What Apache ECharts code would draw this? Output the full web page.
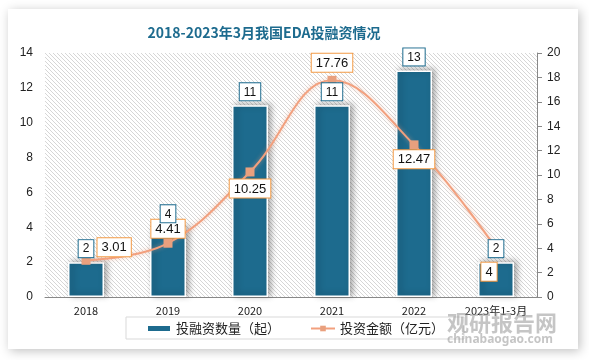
<!DOCTYPE html>
<html><head><meta charset="utf-8">
<script src="https://cdn.jsdelivr.net/npm/echarts@6/dist/echarts.min.js"></script>
<style>html,body{margin:0;padding:0;background:#fff;}#c{width:589px;height:360px;}</style>
</head><body><div id="c"></div>
<script>
var categories = ['2018', '2019', '2020', '2021', '2022', '2023年1-3月'];
var dealCount = [2, 4, 11, 11, 13, 2];
var amount = [3.01, 4.41, 10.25, 17.76, 12.47, 4];
var leftTicks = [0, 14, 2];
var rightTicks = [0, 20, 2];

var tile = document.createElement('canvas');
tile.width = 4; tile.height = 4;
var tc = tile.getContext('2d');
tc.fillStyle = '#ffffff'; tc.fillRect(0,0,4,4);
tc.fillStyle = '#d6d6d6';
for (var i = 0; i < 4; i++) { tc.fillRect(i, i, 1, 1); }

var BLUE = '#1d6b8e';
var ORANGE = '#f39a45';
var linePos = [
  {position:'right', offset:[2,-13], distance:5},
  {position:'top', distance:1},
  {position:'bottom', distance:3},
  {position:'top', distance:4},
  {position:'bottom', distance:1},
  {position:'bottom', offset:[-7,0], distance:10}
];
var lineData = amount.map(function(v,i){ return {value:v, label:linePos[i]}; });

var chart = echarts.init(document.getElementById('c'), null, {renderer:'canvas'});
chart.setOption({
  backgroundColor: '#fff',
  animation: false,
  graphic: [
    {type:'rect', z:-10, shape:{x:8,y:9,width:570,height:340}, style:{fill:'#fff', shadowBlur:10, shadowColor:'rgba(0,0,0,0.25)', shadowOffsetX:2, shadowOffsetY:2}},
    {type:'text', z:100, left:447, top:312, style:{text:'观研报告网', fill:'rgba(150,150,150,0.55)', font:'bold 22px "Noto Sans CJK SC"'}},
    {type:'text', z:100, left:447, top:334, style:{text:'chinabaogao.com', fill:'rgba(150,150,150,0.55)', font:'bold 12px "Noto Sans"'}}
  ],
  title: {
    text: '2018-2023年3月我国EDA投融资情况',
    left: 259, top: 21, textAlign: 'center',
    textStyle: {color: BLUE, fontSize: 14, fontWeight: 'bold', fontFamily: '"Noto Sans CJK SC"'}
  },
  legend: {
    left: 126, top: 317, width: 310,
    padding: [5, 20, 4, 20],
    borderColor: '#d9d9d9', borderWidth: 1, backgroundColor: '#fff',
    itemGap: 30, itemWidth: 24, itemHeight: 7,
    textStyle: {fontSize: 13, color: '#222', fontFamily: '"Noto Sans CJK SC"'},
    data: [{name:'投融资数量（起）', icon:'rect'}, {name:'投资金额（亿元）'}]
  },
  grid: {left: 45, right: 52, top: 53, bottom: 63, show: true, borderWidth: 0,
    backgroundColor: {image: tile, repeat: 'repeat'}},
  xAxis: {
    type: 'category', data: categories,
    axisLine: {lineStyle: {color: '#888'}}, axisTick: {show: false},
    axisLabel: {color: '#222', fontSize: 11, margin: 8, fontFamily: '"Noto Sans CJK SC"'}
  },
  yAxis: [
    {type:'value', min: leftTicks[0], max: leftTicks[1], interval: leftTicks[2],
     axisLine:{show:false}, axisTick:{show:false}, splitLine:{show:false},
     axisLabel:{color:'#222', fontSize:12, margin:12}},
    {type:'value', min: rightTicks[0], max: rightTicks[1], interval: rightTicks[2],
     axisLine:{show:true, lineStyle:{color:'#888'}}, axisTick:{show:true, length:5, lineStyle:{color:'#888'}}, splitLine:{show:false},
     axisLabel:{color:'#222', fontSize:12, margin:10}}
  ],
  series: [
    {name:'投融资数量（起）', type:'bar', data: dealCount, barWidth: 36, z: 2,
     itemStyle:{color: BLUE, borderColor:'#fff', borderWidth:1.5, shadowColor:'rgba(0,0,0,0.35)', shadowBlur:6, shadowOffsetX:3, shadowOffsetY:-1},
     label:{show:false}
    },
    {name:'投资金额（亿元）', type:'line', yAxisIndex:1, data: lineData, smooth: 0.4, z: 3,
     symbol:'rect', symbolSize: 9,
     lineStyle:{color:'#f2a07e', width:2, shadowColor:'rgba(242,160,126,0.6)', shadowBlur:4},
     itemStyle:{color:'#e9a07e'},
     label:{show:true, color:'#111', fontSize:13, backgroundColor:'#fff', borderColor: ORANGE, borderWidth:1, padding:[3,4,2,4]}
    },
    {name:'labels', type:'bar', data: dealCount, barWidth: 36, barGap:'-100%', z: 5, silent:true,
     itemStyle:{color:'rgba(0,0,0,0)'},
     label:{show:true, position:'top', distance:5, color:'#111', fontSize:12, backgroundColor:'#fff', borderColor: BLUE, borderWidth:1, padding:[3,4,2,4]}
    }
  ]
});
</script></body></html>
